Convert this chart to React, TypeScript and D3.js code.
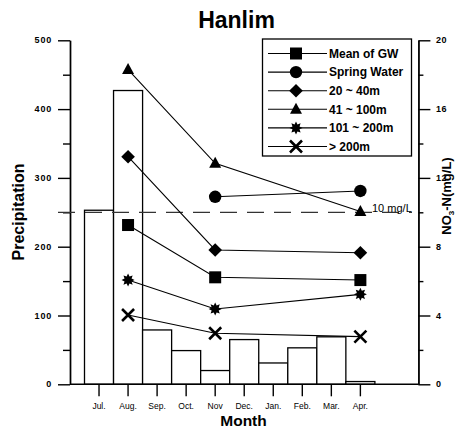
import React, { useEffect, useRef } from "react";
import * as d3 from "d3";

const months = ["Jul.", "Aug.", "Sep.", "Oct.", "Nov", "Dec.", "Jan.", "Feb.", "Mar.", "Apr."];
const precipitation = [253, 427, 79, 49, 20, 65, 31, 53, 69, 4];

const sampleMonths = ["Aug.", "Nov", "Apr."];
const meanGW = [9.26, 6.22, 6.06];
const springWater = [null, 10.9, 11.24];
const depth20to40 = [13.23, 7.81, 7.65];
const depth41to100 = [18.3, 12.85, 10.05];
const depth101to200 = [6.06, 4.38, 5.23];
const depthOver200 = [4.03, 2.97, 2.77];

const leftTicks = [0, 100, 200, 300, 400, 500];
const rightTicks = [0, 4, 8, 12, 16, 20];

const FONT = "'Liberation Sans', Arial, sans-serif";

type Series = { name: string; values: (number | null)[]; marker: string };

const series: Series[] = [
  { name: "Mean of GW", values: meanGW, marker: "square" },
  { name: "Spring Water", values: springWater, marker: "circle" },
  { name: "20 ~ 40m", values: depth20to40, marker: "diamond" },
  { name: "41 ~ 100m", values: depth41to100, marker: "triangle" },
  { name: "101 ~ 200m", values: depth101to200, marker: "star" },
  { name: "> 200m", values: depthOver200, marker: "x" },
];

function drawMarker(g: any, kind: string, cx: number, cy: number) {
  if (kind === "square") {
    g.append("rect").attr("x", cx - 6).attr("y", cy - 6).attr("width", 12).attr("height", 12).attr("fill", "#000");
  } else if (kind === "circle") {
    g.append("circle").attr("cx", cx).attr("cy", cy).attr("r", 6.2).attr("fill", "#000");
  } else if (kind === "diamond") {
    g.append("path")
      .attr("d", `M${cx},${cy - 6.8}L${cx + 6.8},${cy}L${cx},${cy + 6.8}L${cx - 6.8},${cy}Z`)
      .attr("fill", "#000");
  } else if (kind === "triangle") {
    g.append("path")
      .attr("d", `M${cx},${cy - 6.5}L${cx + 6},${cy + 4.5}L${cx - 6},${cy + 4.5}Z`)
      .attr("fill", "#000");
  } else if (kind === "star") {
    const pts = d3.range(16).map((i) => {
      const a = (i * Math.PI) / 8;
      const r = i % 2 === 0 ? 6.5 : 3.8;
      return [cx + r * Math.sin(a), cy - r * Math.cos(a)];
    });
    g.append("path").attr("d", "M" + pts.map((p) => p.join(",")).join("L") + "Z").attr("fill", "#000");
  } else if (kind === "x") {
    g.append("path")
      .attr("d", `M${cx - 6},${cy - 6}L${cx + 6},${cy + 6}M${cx + 6},${cy - 6}L${cx - 6},${cy + 6}`)
      .attr("stroke", "#000")
      .attr("stroke-width", 2.6);
  }
}

export default function App() {
  const ref = useRef<SVGSVGElement>(null);

  useEffect(() => {
    const width = 464;
    const height = 427;
    const svg = d3.select(ref.current).attr("width", width).attr("height", height);
    svg.selectAll("*").remove();

    const left = 70;
    const right = 418.4;
    const top = 40.3;
    const bottom = 384.3;

    const x = d3.scaleBand().domain(months).range([84.5, 374.9]);
    const cx = (m: string) => (x(m) as number) + x.bandwidth() / 2;
    const yL = d3.scaleLinear().domain([0, 500]).range([bottom, top]);
    const yR = d3.scaleLinear().domain([0, 20]).range([bottom, top]);

    // bars
    svg
      .append("g")
      .selectAll("rect")
      .data(months)
      .join("rect")
      .attr("x", (m) => x(m) as number)
      .attr("y", (_, i) => yL(precipitation[i]))
      .attr("width", x.bandwidth())
      .attr("height", (_, i) => bottom - yL(precipitation[i]))
      .attr("fill", "#fff")
      .attr("stroke", "#000")
      .attr("stroke-width", 1.3);

    // axes
    const styleAxis = (g: any) => {
      g.selectAll("path,line").attr("stroke", "#000").attr("stroke-width", 1.4);
      g.selectAll("text").remove();
    };
    svg
      .append("g")
      .attr("transform", `translate(${left},0)`)
      .call(d3.axisLeft(yL).tickValues(leftTicks).tickSize(12).tickSizeOuter(0))
      .call(styleAxis);
    svg
      .append("g")
      .attr("transform", `translate(${left},0)`)
      .call(d3.axisLeft(yL).tickValues(d3.range(50, 500, 100)).tickSize(7).tickSizeOuter(0))
      .call(styleAxis);
    svg
      .append("g")
      .attr("transform", `translate(${right},0)`)
      .call(d3.axisRight(yR).tickValues(rightTicks).tickSize(12).tickSizeOuter(0))
      .call(styleAxis);
    svg
      .append("g")
      .attr("transform", `translate(${right},0)`)
      .call(d3.axisRight(yR).tickValues(d3.range(2, 20, 4)).tickSize(5).tickSizeOuter(0))
      .call(styleAxis);
    svg
      .append("line")
      .attr("x1", left)
      .attr("x2", right)
      .attr("y1", bottom)
      .attr("y2", bottom)
      .attr("stroke", "#000")
      .attr("stroke-width", 1.6);
    svg
      .append("g")
      .selectAll("line")
      .data(months)
      .join("line")
      .attr("x1", cx)
      .attr("x2", cx)
      .attr("y1", bottom)
      .attr("y2", bottom + 12)
      .attr("stroke", "#000")
      .attr("stroke-width", 1.4);

    // tick labels
    svg
      .append("g")
      .selectAll("text")
      .data(leftTicks)
      .join("text")
      .attr("x", 52)
      .attr("y", (d) => yL(d))
      .attr("dy", "0.35em")
      .attr("text-anchor", "end")
      .attr("font-family", FONT)
      .attr("font-size", 9)
      .attr("font-weight", "bold")
      .attr("letter-spacing", 0.8)
      .text((d) => d);
    svg
      .append("g")
      .selectAll("text")
      .data(rightTicks)
      .join("text")
      .attr("x", 436)
      .attr("y", (d) => yR(d))
      .attr("dy", "0.35em")
      .attr("font-family", FONT)
      .attr("font-size", 9)
      .attr("font-weight", "bold")
      .attr("letter-spacing", 0.5)
      .text((d) => d);
    svg
      .append("g")
      .selectAll("text")
      .data(months)
      .join("text")
      .attr("x", cx)
      .attr("y", 408.5)
      .attr("text-anchor", "middle")
      .attr("font-family", FONT)
      .attr("font-size", 8.5)
      .text((d) => d);

    // 10 mg/L reference line
    svg
      .append("line")
      .attr("x1", 58)
      .attr("x2", 412)
      .attr("y1", yR(10))
      .attr("y2", yR(10))
      .attr("stroke", "#333")
      .attr("stroke-width", 1.2)
      .attr("stroke-dasharray", "17,10");
    svg
      .append("text")
      .attr("x", 372)
      .attr("y", yR(10) - 0.5)
      .attr("font-family", FONT)
      .attr("font-size", 11)
      .text("10 mg/L");

    // series lines and markers
    const line = d3
      .line<number | null>()
      .defined((d) => d != null)
      .x((_, i) => cx(sampleMonths[i]))
      .y((d) => yR(d as number));
    series.forEach((s) => {
      const g = svg.append("g");
      g.append("path")
        .attr("d", line(s.values))
        .attr("fill", "none")
        .attr("stroke", "#000")
        .attr("stroke-width", 1.1);
      s.values.forEach((v, i) => {
        if (v != null) drawMarker(g, s.marker, cx(sampleMonths[i]), yR(v));
      });
    });

    // legend
    const lg = svg.append("g");
    lg.append("rect")
      .attr("x", 262.5)
      .attr("y", 39)
      .attr("width", 149)
      .attr("height", 117)
      .attr("fill", "#fff")
      .attr("stroke", "#000")
      .attr("stroke-width", 1.3);
    series.forEach((s, i) => {
      const yy = 53.5 + i * 18.6;
      lg.append("line").attr("x1", 268).attr("x2", 327).attr("y1", yy).attr("y2", yy).attr("stroke", "#000").attr("stroke-width", 1.1);
      drawMarker(lg, s.marker, 296, yy);
      lg.append("text")
        .attr("x", 329)
        .attr("y", yy + 4.3)
        .attr("font-family", FONT)
        .attr("font-size", 12)
        .attr("font-weight", "bold")
        .text(s.name);
    });

    // titles
    svg
      .append("text")
      .attr("x", 236.5)
      .attr("y", 28.3)
      .attr("text-anchor", "middle")
      .attr("font-family", FONT)
      .attr("font-size", 23)
      .attr("font-weight", "bold")
      .text("Hanlim");
    svg
      .append("text")
      .attr("x", 243.5)
      .attr("y", 425.5)
      .attr("text-anchor", "middle")
      .attr("font-family", FONT)
      .attr("font-size", 15.5)
      .attr("font-weight", "bold")
      .text("Month");
    svg
      .append("text")
      .attr("transform", "translate(24,212) rotate(-90)")
      .attr("text-anchor", "middle")
      .attr("font-family", FONT)
      .attr("font-size", 16)
      .attr("font-weight", "bold")
      .text("Precipitation");
    const r = svg
      .append("text")
      .attr("transform", "translate(451,196) rotate(-90)")
      .attr("text-anchor", "middle")
      .attr("font-family", FONT)
      .attr("font-size", 13)
      .attr("font-weight", "bold");
    r.append("tspan").text("NO");
    r.append("tspan").attr("font-size", 8).attr("dy", 3).text("3");
    r.append("tspan").attr("dy", -3).text("-N(mg/L)");
  }, []);

  return <svg ref={ref} style={{ position: "absolute", left: 0, top: 0, background: "#fff" }} />;
}
